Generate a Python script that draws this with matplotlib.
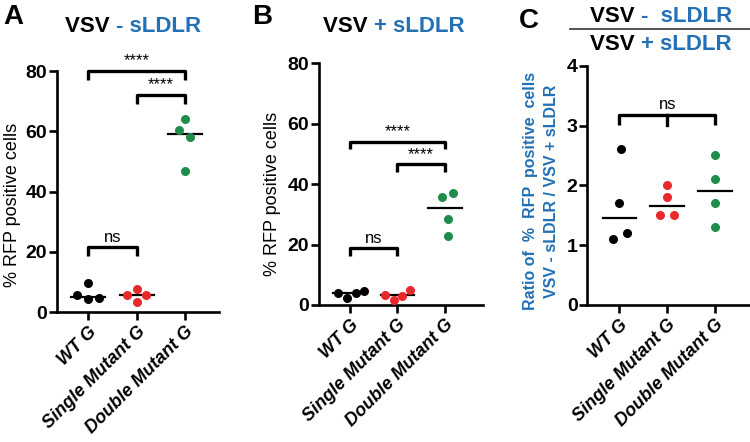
import numpy as np
import matplotlib.pyplot as plt
import matplotlib.transforms as mtransforms

plt.rcParams['font.family'] = ['Liberation Sans', 'DejaVu Sans']

# data
groups = ['WT G', 'Single Mutant G', 'Double Mutant G']
colors = ['black', '#e8282b', '#1e8c4a']
blue = '#2270b5'

a_wt = [9.7, 5.6, 4.3, 4.6]
a_single = [7.7, 5.6, 5.6, 3.4]
a_double = [64.0, 60.4, 58.0, 46.9]

b_wt = [3.9, 2.4, 3.9, 4.6]
b_single = [3.4, 1.7, 3.0, 5.0]
b_double = [35.6, 37.1, 28.6, 22.8]

c_wt = [2.61, 1.70, 1.10, 1.20]
c_single = [2.00, 1.81, 1.51, 1.51]
c_double = [2.51, 2.10, 1.71, 1.30]

# horizontal scatter (jitter) of the dots, in category units
a_jit = [[0, -0.23, 0, 0.23], [0, -0.2, 0.2, 0], [0, -0.12, 0.1, 0]]
b_jit = [[-0.24, -0.05, 0.14, 0.31], [-0.26, -0.07, 0.10, 0.26], [-0.06, 0.17, 0.06, 0.06]]
c_jit = [[0.03, 0, -0.14, 0.16], [0, 0, -0.14, 0.15], [0, 0, 0, 0]]

fig = plt.figure(figsize=(7.5, 4.42), dpi=100)

def panel(rect, data, jit, ylim, yticks, xlim):
    ax = fig.add_axes(rect)
    for i, (vals, dx) in enumerate(zip(data, jit)):
        ax.scatter(np.array(dx) + i, vals, s=30, color=colors[i], zorder=3, clip_on=False)
        m = np.median(vals)
        ax.plot([i - 0.35, i + 0.35], [m, m], color='black', lw=1.6, zorder=2)
    ax.set_xlim(*xlim)
    ax.set_ylim(*ylim)
    ax.set_yticks(yticks)
    ax.set_xticks(range(3))
    ax.set_xticklabels(groups, rotation=45, ha='right', va='top', rotation_mode='anchor',
                       fontsize=13, fontweight='bold', fontstyle='italic')
    off = mtransforms.ScaledTranslation(9 / 100, 0, fig.dpi_scale_trans)
    for lab in ax.get_xticklabels():
        lab.set_transform(lab.get_transform() + off)
    for s in ['top', 'right']:
        ax.spines[s].set_visible(False)
    for s in ['left', 'bottom']:
        ax.spines[s].set_linewidth(1.9)
    ax.tick_params(width=1.9, length=6, pad=2)
    ax.tick_params(axis='y', labelsize=14, pad=1)
    for lab in ax.get_yticklabels():
        lab.set_fontweight('bold')
    return ax

def bracket(ax, x0, x1, y, leg, text, mids=()):
    xs = [x0, x0, x1, x1]
    ys = [y - leg, y, y, y - leg]
    ax.plot(xs, ys, color='black', lw=2.4, solid_capstyle='butt', clip_on=False)
    for xm in mids:
        ax.plot([xm, xm], [y, y - leg], color='black', lw=2.4, clip_on=False)
    ax.text((x0 + x1) / 2, y + leg * 0.3, text, ha='center', va='bottom', fontsize=12)

# panel A
axA = panel([0.076, 0.294, 0.216, 0.545], [a_wt, a_single, a_double], a_jit,
            (0, 80), [0, 20, 40, 60, 80], (-0.64, 2.7))
axA.set_ylabel('% RFP positive cells', fontsize=13)
axA.yaxis.set_label_coords(-0.225, 0.445)
bracket(axA, 0, 2, 80, 3, '****')
bracket(axA, 1, 2, 72, 3, '****')
bracket(axA, 0, 1, 21.5, 3, 'ns')

# panel B
axB = panel([0.425, 0.310, 0.219, 0.547], [b_wt, b_single, b_double], b_jit,
            (0, 80), [0, 20, 40, 60, 80], (-0.65, 2.8))
axB.set_ylabel('% RFP positive cells', fontsize=13)
axB.yaxis.set_label_coords(-0.23, 0.46)
bracket(axB, 0, 2, 54, 2.5, '****')
bracket(axB, 1, 2, 46.5, 2.5, '****')
bracket(axB, 0, 1, 18.7, 2.5, 'ns')

# panel C
axC = panel([0.783, 0.310, 0.217, 0.541], [c_wt, c_single, c_double], c_jit,
            (0, 4), [0, 1, 2, 3, 4], (-0.67, 2.73))
axC.set_ylabel('Ratio of  %  RFP  positive  cells\nVSV - sLDLR / VSV + sLDLR',
               fontsize=11.5, fontweight='bold', color=blue, linespacing=1.5)
axC.yaxis.set_label_coords(-0.175, 0.477)
bracket(axC, 0, 2, 3.18, 0.17, 'ns', mids=[1])

# titles, drawn piece by piece so the colours can change mid-line
def ctext(x, y, parts, size=16):
    t = fig.text(x, y, parts[0][0], color=parts[0][1], fontsize=size,
                 fontweight='bold', va='center', ha='left')
    for txt, col in parts[1:]:
        t = plt.annotate(txt, xy=(1, 0), xycoords=t, xytext=(0, 0),
                         textcoords='offset points', color=col, fontsize=size,
                         fontweight='bold', va='bottom', ha='left')
    return t

ctext(65 / 750, 1 - 27 / 442, [('VSV ', 'black'), ('- sLDLR', blue)])
ctext(323 / 750, 1 - 27 / 442, [('VSV ', 'black'), ('+ sLDLR', blue)])
ctext(590 / 750, 1 - 16 / 442, [('VSV ', 'black'), ('-  sLDLR', blue)])
ctext(590 / 750, 1 - 45 / 442, [('VSV ', 'black'), ('+ sLDLR', blue)])
fig.add_artist(plt.Line2D([570 / 750, 1.0], [1 - 29 / 442, 1 - 29 / 442],
                          color='#444444', lw=1.3))

for letter, x, y in [('A', 3, 17), ('B', 252, 17), ('C', 519, 21)]:
    fig.text(x / 750, 1 - y / 442, letter, fontsize=20, fontweight='bold', va='center')

fig.savefig('out.png', dpi=100)
